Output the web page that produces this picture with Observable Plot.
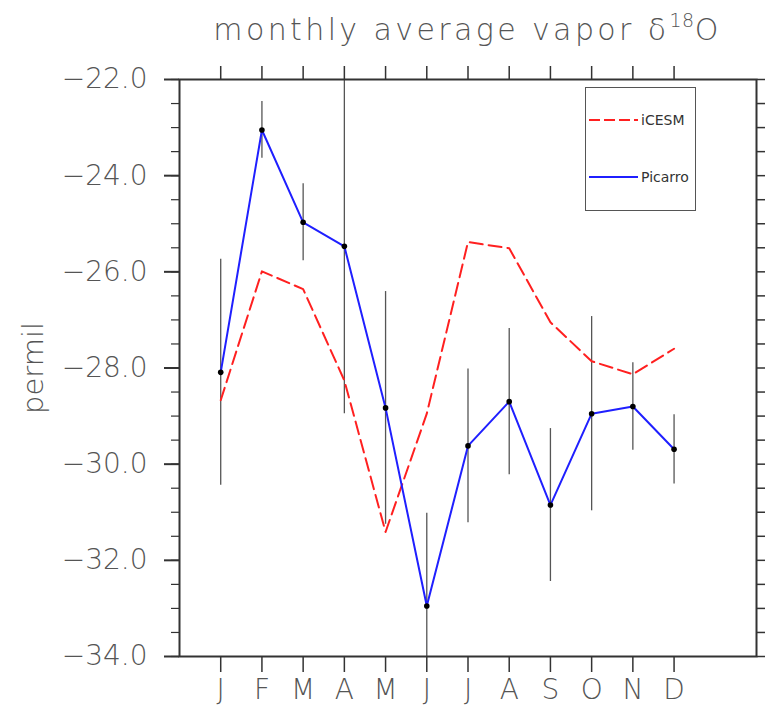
<!DOCTYPE html>
<html>
<head>
<meta charset="utf-8">
<script src="https://cdn.jsdelivr.net/npm/d3@7"></script>
<script src="https://cdn.jsdelivr.net/npm/@observablehq/plot@0.6"></script>
<style>
  html, body { margin: 0; padding: 0; background: #fff; }
  #wrap { position: relative; width: 765px; height: 713px; overflow: hidden; }
  #title { position: absolute; left: 179px; width: 577px; top: 10px; text-align: center;
    font-family: "DejaVu Sans", sans-serif; font-weight: 200; font-size: 30px; line-height: 40px;
    color: #555; letter-spacing: 3.4px; white-space: nowrap; }
  #title sup { font-size: 19px; vertical-align: 0; position: relative; top: -13px; letter-spacing: 0.5px; }
  #legend { position: absolute; left: 585px; top: 87px; width: 111px; height: 124px;
    box-sizing: border-box; border: 1.5px solid #555; background: #fff; }
  #legend svg { position: absolute; left: 0; top: 0; }
  #legend text { font-family: "DejaVu Sans", sans-serif; font-size: 14px; fill: #333; }
</style>
</head>
<body>
<div id="wrap">
  <div id="chart"></div>
  <div id="title">monthly average vapor δ<sup>18</sup>O</div>
  <div id="legend"></div>
</div>
<script>
// ---- data ----
const monthLabels = ["J","F","M","A","M","J","J","A","S","O","N","D"];
const monthIndex  = [1,2,3,4,5,6,7,8,9,10,11,12];
const picarro     = [-28.09,-23.05,-24.97,-25.47,-28.83,-32.95,-29.62,-28.70,-30.85,-28.95,-28.80,-29.69];
const picarroStd  = [2.35,0.59,0.80,3.48,2.42,1.93,1.60,1.52,1.59,2.02,0.91,0.72];
const icesm       = [-28.67,-25.99,-26.36,-28.26,-31.41,-28.95,-25.38,-25.51,-27.05,-27.86,-28.13,-27.60];
const yMajorTicks = [-34,-32,-30,-28,-26,-24,-22];
const yMinorTicks = d3.range(0, 25).map(i => -34 + i * 0.5);
const seriesNames = ["iCESM","Picarro"];
const seriesColors = ["#ff2020","#1f1fff"];

const rows = monthIndex.map((m, i) => ({
  m, label: monthLabels[i], picarro: picarro[i], icesm: icesm[i],
  lo: picarro[i] - picarroStd[i], hi: picarro[i] + picarroStd[i]
}));

const font = "'DejaVu Sans', sans-serif";
const chart = Plot.plot({
  width: 765, height: 713,
  marginLeft: 179, marginRight: 9, marginTop: 79, marginBottom: 57,
  x: {domain: [0, 14]},
  y: {domain: [-34, -22]},
  style: {fontFamily: font, background: "#fff", color: "#333"},
  marks: [
    Plot.ruleX(rows, {x: "m", y1: "lo", y2: "hi", stroke: "#555", strokeWidth: 1.3, clip: true}),
    Plot.line(rows, {x: "m", y: "icesm", stroke: seriesColors[0], strokeWidth: 2, strokeDasharray: "13,6"}),
    Plot.line(rows, {x: "m", y: "picarro", stroke: seriesColors[1], strokeWidth: 2}),
    Plot.dot(rows, {x: "m", y: "picarro", r: 2.8, fill: "#000"}),
    Plot.frame({stroke: "#333", strokeWidth: 2}),
    Plot.axisY({anchor: "left", ticks: yMinorTicks, tickSize: 8, tickFormat: () => "", label: null, stroke: "#333", strokeWidth: 1.2}),
    Plot.axisY({anchor: "left", ticks: yMajorTicks, tickSize: 15, tickPadding: 17, tickFormat: d3.format(".1f"),
      label: null, fontSize: 28, fontWeight: 200, fill: "#555", stroke: "#333", strokeWidth: 2}),
    Plot.axisY({anchor: "right", ticks: yMinorTicks, tickSize: 8, tickFormat: () => "", label: null, stroke: "#333", strokeWidth: 1.5}),
    Plot.axisX({anchor: "top", ticks: monthIndex, tickSize: 14, tickFormat: () => "", label: null, stroke: "#333", strokeWidth: 1.5}),
    Plot.axisX({anchor: "bottom", ticks: monthIndex, tickSize: 16, tickPadding: 7, tickFormat: d => monthLabels[d - 1],
      label: null, fontSize: 28, fontWeight: 200, fill: "#555", stroke: "#333", strokeWidth: 1.5}),
    Plot.text(["permil"], {frameAnchor: "left", dx: -146, rotate: -90, textAnchor: "middle", fontSize: 29, fontWeight: 200, fill: "#555"})
  ]
});
document.getElementById("chart").appendChild(chart);

// legend
const lg = d3.select("#legend").append("svg").attr("width", 111).attr("height", 124);
const entries = [{y: 32}, {y: 89}];
seriesNames.forEach((name, i) => {
  const g = lg.append("g");
  g.append("line").attr("x1", 3).attr("x2", 52).attr("y1", entries[i].y).attr("y2", entries[i].y)
    .attr("stroke", seriesColors[i]).attr("stroke-width", 2)
    .attr("stroke-dasharray", i === 0 ? "11,4" : null);
  g.append("text").attr("x", 55).attr("y", entries[i].y).attr("dy", "0.35em").text(name);
});
</script>
</body>
</html>
